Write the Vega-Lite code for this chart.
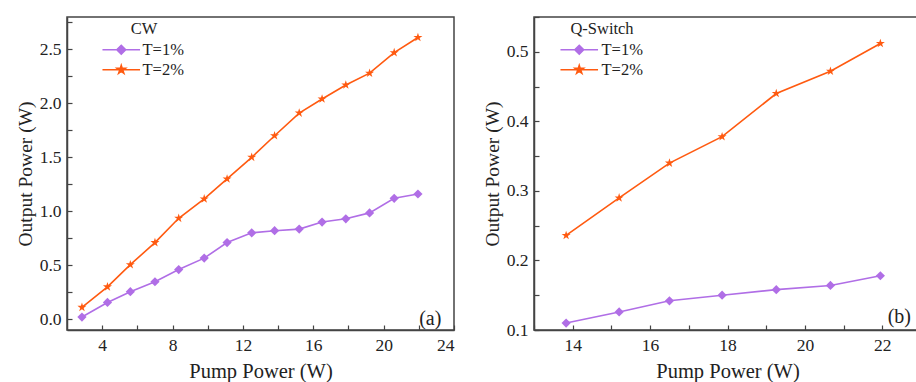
{
  "$schema": "https://vega.github.io/schema/vega-lite/v6.json",
  "padding": {"left": 14, "top": 15, "right": 0, "bottom": 0},
  "background": "white",
  "datasets": {
    "cw": [
      {"pump": 2.85, "power": 0.02, "series": "T=1%"},
      {"pump": 4.3, "power": 0.155, "series": "T=1%"},
      {"pump": 5.6, "power": 0.255, "series": "T=1%"},
      {"pump": 7.0, "power": 0.347, "series": "T=1%"},
      {"pump": 8.35, "power": 0.46, "series": "T=1%"},
      {"pump": 9.8, "power": 0.566, "series": "T=1%"},
      {"pump": 11.1, "power": 0.71, "series": "T=1%"},
      {"pump": 12.5, "power": 0.80, "series": "T=1%"},
      {"pump": 13.8, "power": 0.82, "series": "T=1%"},
      {"pump": 15.2, "power": 0.835, "series": "T=1%"},
      {"pump": 16.5, "power": 0.90, "series": "T=1%"},
      {"pump": 17.85, "power": 0.93, "series": "T=1%"},
      {"pump": 19.2, "power": 0.985, "series": "T=1%"},
      {"pump": 20.6, "power": 1.12, "series": "T=1%"},
      {"pump": 21.95, "power": 1.16, "series": "T=1%"},
      {"pump": 2.85, "power": 0.11, "series": "T=2%"},
      {"pump": 4.3, "power": 0.30, "series": "T=2%"},
      {"pump": 5.6, "power": 0.505, "series": "T=2%"},
      {"pump": 7.0, "power": 0.71, "series": "T=2%"},
      {"pump": 8.35, "power": 0.935, "series": "T=2%"},
      {"pump": 9.8, "power": 1.115, "series": "T=2%"},
      {"pump": 11.1, "power": 1.30, "series": "T=2%"},
      {"pump": 12.5, "power": 1.50, "series": "T=2%"},
      {"pump": 13.8, "power": 1.70, "series": "T=2%"},
      {"pump": 15.2, "power": 1.91, "series": "T=2%"},
      {"pump": 16.5, "power": 2.04, "series": "T=2%"},
      {"pump": 17.85, "power": 2.17, "series": "T=2%"},
      {"pump": 19.2, "power": 2.28, "series": "T=2%"},
      {"pump": 20.6, "power": 2.47, "series": "T=2%"},
      {"pump": 21.95, "power": 2.61, "series": "T=2%"}
    ],
    "qs": [
      {"pump": 13.83, "power": 0.11, "series": "T=1%"},
      {"pump": 15.2, "power": 0.126, "series": "T=1%"},
      {"pump": 16.5, "power": 0.142, "series": "T=1%"},
      {"pump": 17.86, "power": 0.150, "series": "T=1%"},
      {"pump": 19.26, "power": 0.158, "series": "T=1%"},
      {"pump": 20.66, "power": 0.164, "series": "T=1%"},
      {"pump": 21.95, "power": 0.178, "series": "T=1%"},
      {"pump": 13.83, "power": 0.236, "series": "T=2%"},
      {"pump": 15.2, "power": 0.29, "series": "T=2%"},
      {"pump": 16.5, "power": 0.34, "series": "T=2%"},
      {"pump": 17.86, "power": 0.378, "series": "T=2%"},
      {"pump": 19.26, "power": 0.44, "series": "T=2%"},
      {"pump": 20.66, "power": 0.472, "series": "T=2%"},
      {"pump": 21.95, "power": 0.512, "series": "T=2%"}
    ]
  },
  "spacing": 25,
  "resolve": {"scale": {"x": "independent", "y": "independent", "color": "independent"}, "legend": {"color": "independent"}},
  "hconcat": [
    {
      "width": 387,
      "height": 313,
      "encoding": {
        "x": {"field": "pump", "type": "quantitative",
              "scale": {"domain": [2, 24], "nice": false, "zero": false},
              "axis": {"title": "Pump Power (W)", "values": [4,6,8,10,12,14,16,18,20,22,24],
                       "labelExpr": "datum.value % 4 === 0 ? datum.label : ''",
                       "tickSize": -5,
                       "labelPadding": 11, "titlePadding": 8}},
        "y": {"field": "power", "type": "quantitative",
              "scale": {"domain": [-0.1, 2.8], "nice": false, "zero": false},
              "axis": {"title": "Output Power (W)", "format": ".1f",
                       "values": [0, 0.25, 0.5, 0.75, 1, 1.25, 1.5, 1.75, 2, 2.25, 2.5, 2.75],
                       "labelExpr": "abs(datum.value*2 - round(datum.value*2)) < 0.001 ? datum.label : ''",
                       "tickSize": -5,
                       "labelPadding": 11, "titlePadding": 4}}
      },
      "layer": [
        {"data": {"name": "cw"},
         "mark": {"type": "line", "strokeWidth": 1.6},
         "encoding": {
           "color": {"field": "series", "type": "nominal",
                     "scale": {"domain": ["T=1%", "T=2%"], "range": ["#b06ee6", "#ff5a10"]},
                     "legend": {"title": "CW", "orient": "none", "legendX": 37, "legendY": 4,
                                "titleAnchor": "middle", "symbolSize": 80, "labelOffset": 13, "symbolOffset": 9,
                                "encode": {"symbols": {"update": {
                                  "shape": {"signal": "datum.value === 'T=1%' ? 'M-4.2,0L4.2,0M0,-1L1,0L0,1L-1,0Z' : 'M-4.2,0L4.2,0M0,-1L0.225,-0.309L0.951,-0.309L0.363,0.118L0.588,0.809L0,0.382L-0.588,0.809L-0.363,0.118L-0.951,-0.309L-0.225,-0.309Z'"},
                                  "fill": {"signal": "datum.value === 'T=1%' ? '#b06ee6' : '#ff5a10'"},
                                  "stroke": {"signal": "datum.value === 'T=1%' ? '#b06ee6' : '#ff5a10'"},
                                  "strokeWidth": {"value": 1.5},
                                  "opacity": {"value": 1}
                                }}}}}
         }},
        {"data": {"name": "cw"},
         "transform": [{"filter": "datum.series === 'T=1%'"}],
         "mark": {"type": "point", "filled": true, "opacity": 1, "size": 85, "shape": "diamond", "color": "#b06ee6"}},
        {"data": {"name": "cw"},
         "transform": [{"filter": "datum.series === 'T=2%'"}],
         "mark": {"type": "point", "filled": true, "opacity": 1, "size": 90, "color": "#ff5a10",
                  "shape": "M0,-1L0.225,-0.309L0.951,-0.309L0.363,0.118L0.588,0.809L0,0.382L-0.588,0.809L-0.363,0.118L-0.951,-0.309L-0.225,-0.309Z"}},
        {"data": {"name": "cw"},
         "transform": [{"filter": "datum.series === 'T=1%' && datum.pump > 21.9"}],
         "mark": {"type": "text", "font": "Liberation Serif", "fontSize": 20, "fill": "#222", "align": "center", "baseline": "middle", "text": "(a)"},
         "encoding": {"x": {"datum": 22.65}, "y": {"datum": 0.0}}}
      ]
    },
    {
      "width": 387,
      "height": 313,
      "encoding": {
        "x": {"field": "pump", "type": "quantitative",
              "scale": {"domain": [13, 23], "nice": false, "zero": false},
              "axis": {"title": "Pump Power (W)", "values": [13,14,15,16,17,18,19,20,21,22,23],
                       "labelExpr": "datum.value % 2 === 0 ? datum.label : ''",
                       "tickSize": -5,
                       "labelPadding": 11, "titlePadding": 8}},
        "y": {"field": "power", "type": "quantitative",
              "scale": {"domain": [0.1, 0.55], "nice": false, "zero": false},
              "axis": {"title": "Output Power (W)", "format": ".1f",
                       "values": [0.1, 0.15, 0.2, 0.25, 0.3, 0.35, 0.4, 0.45, 0.5, 0.55],
                       "labelExpr": "abs(datum.value*10 - round(datum.value*10)) < 0.001 ? datum.label : ''",
                       "tickSize": -5,
                       "labelPadding": 11, "titlePadding": 4}}
      },
      "layer": [
        {"data": {"name": "qs"},
         "mark": {"type": "line", "strokeWidth": 1.6},
         "encoding": {
           "color": {"field": "series", "type": "nominal",
                     "scale": {"domain": ["T=1%", "T=2%"], "range": ["#b06ee6", "#ff5a10"]},
                     "legend": {"title": "Q-Switch", "orient": "none", "legendX": 28, "legendY": 4,
                                "titleAnchor": "middle", "symbolSize": 80, "labelOffset": 14, "symbolOffset": 9,
                                "encode": {"symbols": {"update": {
                                  "shape": {"signal": "datum.value === 'T=1%' ? 'M-4.2,0L4.2,0M0,-1L1,0L0,1L-1,0Z' : 'M-4.2,0L4.2,0M0,-1L0.225,-0.309L0.951,-0.309L0.363,0.118L0.588,0.809L0,0.382L-0.588,0.809L-0.363,0.118L-0.951,-0.309L-0.225,-0.309Z'"},
                                  "fill": {"signal": "datum.value === 'T=1%' ? '#b06ee6' : '#ff5a10'"},
                                  "stroke": {"signal": "datum.value === 'T=1%' ? '#b06ee6' : '#ff5a10'"},
                                  "strokeWidth": {"value": 1.5},
                                  "opacity": {"value": 1}
                                }}}}}
         }},
        {"data": {"name": "qs"},
         "transform": [{"filter": "datum.series === 'T=1%'"}],
         "mark": {"type": "point", "filled": true, "opacity": 1, "size": 85, "shape": "diamond", "color": "#b06ee6"}},
        {"data": {"name": "qs"},
         "transform": [{"filter": "datum.series === 'T=2%'"}],
         "mark": {"type": "point", "filled": true, "opacity": 1, "size": 90, "color": "#ff5a10",
                  "shape": "M0,-1L0.225,-0.309L0.951,-0.309L0.363,0.118L0.588,0.809L0,0.382L-0.588,0.809L-0.363,0.118L-0.951,-0.309L-0.225,-0.309Z"}},
        {"data": {"name": "qs"},
         "transform": [{"filter": "datum.series === 'T=1%' && datum.pump > 21.9"}],
         "mark": {"type": "text", "font": "Liberation Serif", "fontSize": 20, "fill": "#222", "align": "center", "baseline": "middle", "text": "(b)"},
         "encoding": {"x": {"datum": 22.44}, "y": {"datum": 0.119}}}
      ]
    }
  ],
  "config": {
    "view": {"stroke": "#444", "strokeWidth": 1.5},
    "axis": {"domainColor": "#444", "domainWidth": 1.5, "tickColor": "#444", "tickWidth": 1.2,
             "labelFont": "Liberation Serif", "labelFontSize": 17.5, "labelColor": "#222",
             "titleFont": "Liberation Serif", "titleFontWeight": "normal", "titleColor": "#222", "grid": false},
    "axisX": {"titleFontSize": 20.5},
    "axisY": {"titleFontSize": 19.5},
    "legend": {"titleFont": "Liberation Serif", "titleFontWeight": "normal", "titleFontSize": 16.5, "titleColor": "#222",
               "labelFont": "Liberation Serif", "labelFontSize": 16.5, "labelColor": "#222", "rowPadding": 3, "titlePadding": 4}
  }
}
